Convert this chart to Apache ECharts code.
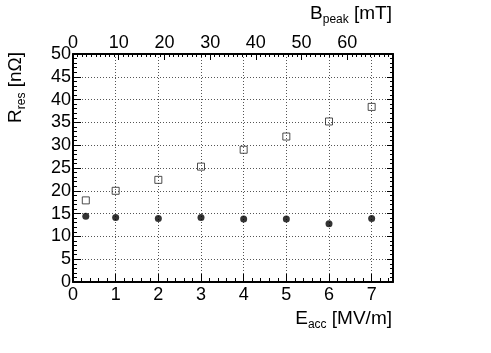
<!DOCTYPE html>
<html>
<head>
<meta charset="utf-8">
<script src="https://cdn.jsdelivr.net/npm/echarts@6/dist/echarts.min.js"></script>
<style>
  html, body { margin: 0; padding: 0; background: #fff; }
  #chart { width: 491px; height: 353px; }
</style>
</head>
<body>
<div id="chart"></div>
<script>
// E_acc [MV/m] of each measurement point
const eacc = [0.3, 1, 2, 3, 4, 5, 6, 7];
// open squares
const rresOpen = [17.9, 20.0, 22.4, 25.3, 29.0, 31.9, 35.2, 38.4];
// filled dots
const rresFilled = [14.4, 14.15, 13.9, 14.15, 13.8, 13.8, 12.8, 13.9];

const FONT = "Liberation Sans";

const chart = echarts.init(document.getElementById("chart"), null, { renderer: "canvas" });

const toPairs = (xs, ys) => xs.map((x, i) => [x, ys[i]]);

// rich styles for subscripted axis titles
const titleRich = {
  a: { fontFamily: FONT, fontSize: 19, color: "#000", lineHeight: 22, verticalAlign: "top" },
  s: { fontFamily: FONT, fontSize: 12, color: "#000", lineHeight: 22, verticalAlign: "bottom" },
};

const gridLine = { show: true, lineStyle: { color: "#555", type: [1, 2], width: 1 } };
const axisLine = { show: true, onZero: false, lineStyle: { color: "#000", width: 2 } };

const option = {
  animation: false,
  backgroundColor: "#fff",
  grid: { left: 73, right: 98, top: 54, bottom: 71 },
  xAxis: [
    {
      type: "value",
      position: "bottom",
      min: 0,
      max: 7.5,
      interval: 1,
      axisLine: axisLine,
      axisTick: { inside: true, length: 8, lineStyle: { color: "#000" } },
      minorTick: { show: true, splitNumber: 5, length: 4, lineStyle: { color: "#000" } },
      splitLine: gridLine,
      axisLabel: { fontFamily: FONT, fontSize: 18, color: "#000", margin: 4, showMaxLabel: false },
    },
    {
      type: "value",
      position: "top",
      min: 0,
      max: 70,
      interval: 10,
      axisLine: axisLine,
      axisTick: { inside: true, length: 6, lineStyle: { color: "#000" } },
      minorTick: { show: true, splitNumber: 10, length: 3, lineStyle: { color: "#000" } },
      splitLine: { show: false },
      axisLabel: { fontFamily: FONT, fontSize: 18, color: "#000", margin: 2, showMaxLabel: false },
    },
  ],
  yAxis: [
    {
      type: "value",
      position: "left",
      min: 0,
      max: 50,
      interval: 5,
      axisLine: axisLine,
      axisTick: { inside: true, length: 8, lineStyle: { color: "#000" } },
      minorTick: { show: true, splitNumber: 5, length: 4, lineStyle: { color: "#000" } },
      splitLine: gridLine,
      axisLabel: { fontFamily: FONT, fontSize: 18, color: "#000", margin: 2 },
    },
    {
      type: "value",
      position: "right",
      min: 0,
      max: 50,
      interval: 5,
      axisLine: axisLine,
      axisTick: { inside: true, length: 6, lineStyle: { color: "#000" } },
      minorTick: { show: true, splitNumber: 5, length: 3, lineStyle: { color: "#000" } },
      splitLine: { show: false },
      axisLabel: { show: false },
    },
  ],
  graphic: [
    {
      type: "text",
      right: 99,
      top: 309,
      style: { text: "{a|E}{s|acc}{a| [MV/m]}", rich: titleRich, align: "right" },
    },
    {
      type: "text",
      right: 99,
      top: 4,
      style: { text: "{a|B}{s|peak}{a| [mT]}", rich: titleRich, align: "right" },
    },
    {
      type: "text",
      x: 6,
      y: 123,
      rotation: Math.PI / 2,
      style: { text: "{a|R}{s|res}{a| [nΩ]}", rich: titleRich, align: "left", verticalAlign: "top" },
    },
  ],
  series: [
    {
      name: "open",
      type: "scatter",
      xAxisIndex: 0,
      yAxisIndex: 0,
      symbol: "rect",
      symbolSize: 7,
      itemStyle: { color: "rgba(0,0,0,0)", borderColor: "#222", borderWidth: 1 },
      data: toPairs(eacc, rresOpen),
    },
    {
      name: "filled",
      type: "scatter",
      xAxisIndex: 0,
      yAxisIndex: 0,
      symbol: "circle",
      symbolSize: 7,
      itemStyle: { color: "#000" },
      data: toPairs(eacc, rresFilled),
    },
  ],
};

chart.setOption(option);
</script>
</body>
</html>
